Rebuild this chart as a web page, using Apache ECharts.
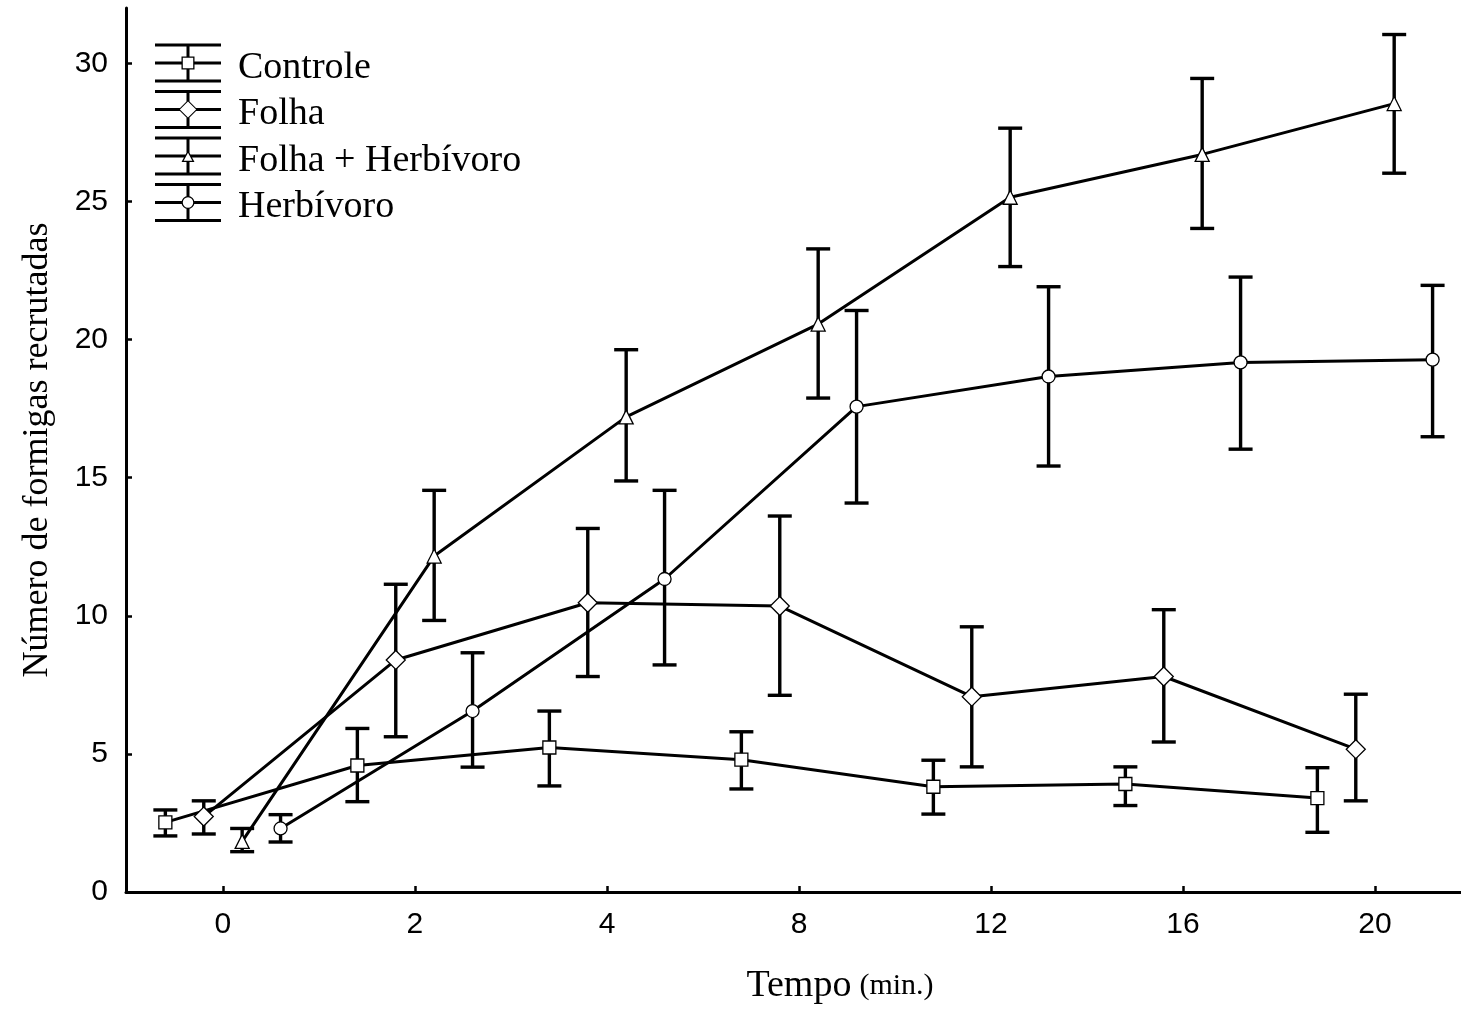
<!DOCTYPE html>
<html>
<head>
<meta charset="utf-8">
<script src="https://cdn.jsdelivr.net/npm/echarts@6/dist/echarts.min.js"></script>
<style>html,body{margin:0;padding:0;background:#fff}#c{width:1461px;height:1012px}</style>
</head>
<body>
<div id="c"></div>
<script>
// ---- data ----
const timeLabels = ['0', '2', '4', '8', '12', '16', '20'];
const seriesNames = ['Controle', 'Folha', 'Folha + Herbívoro', 'Herbívoro'];
const yTicks = [0, 5, 10, 15, 20, 25, 30];

const controleMean = [2.52, 4.58, 5.23, 4.79, 3.81, 3.91, 3.40];
const controleLow  = [2.03, 3.27, 3.84, 3.73, 2.82, 3.13, 2.16];
const controleHigh = [2.97, 5.92, 6.55, 5.80, 4.77, 4.53, 4.50];

const folhaMean = [2.73, 8.40, 10.47, 10.35, 7.07, 7.80, 5.17];
const folhaLow  = [2.10, 5.62, 7.80, 7.12, 4.53, 5.43, 3.30];
const folhaHigh = [3.30, 11.14, 13.16, 13.61, 9.60, 10.22, 7.16];

const folhaHerbMean = [1.83, 12.16, 17.20, 20.56, 25.15, 26.70, 28.54];
const folhaHerbLow  = [1.46, 9.83, 14.88, 17.88, 22.64, 24.02, 26.02];
const folhaHerbHigh = [2.30, 14.54, 19.63, 23.28, 27.65, 29.45, 31.04];

const herbMean = [2.30, 6.55, 11.33, 17.57, 18.66, 19.17, 19.27];
const herbLow  = [1.81, 4.52, 8.22, 14.08, 15.42, 16.03, 16.48];
const herbHigh = [2.80, 8.66, 14.54, 21.05, 21.91, 22.26, 21.96];

// ---- layout / style ----
const dodge = [-0.3, -0.1, 0.1, 0.3];
const symbols = ['rect', 'diamond', 'triangle', 'circle'];
const symbolSizes = [13, 19, 14, 13];

// legend icons: error-bar glyph with hollow marker (nonzero winding holes)
const capPaths = 'M0 0H66V3H0Z M0 36H66V39H0Z ';
const legendIcons = [
  'path://' + capPaths +
    'M26.5 13H39.5V26H26.5Z M27.8 14.3V24.7H38.2V14.3Z ' +
    'M0 18H26.5V21H0Z M39.5 18H66V21H39.5Z M31.5 3H34.5V13H31.5Z M31.5 26H34.5V36H31.5Z',
  'path://' + capPaths +
    'M33 10L42.5 19.5L33 29L23.5 19.5Z M33 11.4L24.9 19.5L33 27.6L41.1 19.5Z ' +
    'M0 18H25L23.5 19.5L25 21H0Z M41 18H66V21H41L42.5 19.5Z ' +
    'M31.5 3H34.5V11.5L33 10L31.5 11.5Z M31.5 27.5L33 29L34.5 27.5V36H31.5Z',
  'path://' + capPaths +
    'M33 13.5L39.5 25.5H26.5Z M33 16.2L28.67 24.2H37.33Z ' +
    'M0 18H30.56L28.94 21H0Z M35.44 18H66V21H37.06Z ' +
    'M31.5 3H34.5V16.27L33 13.5L31.5 16.27Z M31.5 25.5H34.5V36H31.5Z',
  'path://' + capPaths +
    'M39.5 19.5A6.5 6.5 0 1 1 26.5 19.5A6.5 6.5 0 1 1 39.5 19.5Z ' +
    'M38.2 19.5A5.2 5.2 0 1 0 27.8 19.5A5.2 5.2 0 1 0 38.2 19.5Z ' +
    'M0 18H26.7V21H0Z M39.3 18H66V21H39.3Z M31.5 3H34.5V13.2H31.5Z M31.5 25.8H34.5V36H31.5Z'
];

const means = [controleMean, folhaMean, folhaHerbMean, herbMean];
const lows = [controleLow, folhaLow, folhaHerbLow, herbLow];
const highs = [controleHigh, folhaHigh, folhaHerbHigh, herbHigh];

const series = [];
seriesNames.forEach((name, k) => {
  series.push({
    name: name + ' (erro)',
    type: 'custom',
    z: 2,
    silent: true,
    encode: { x: 0, y: [1, 2] },
    data: means[k].map((v, i) => [i + dodge[k], lows[k][i], highs[k][i]]),
    renderItem: function (params, api) {
      const x = api.value(0);
      const pLo = api.coord([x, api.value(1)]);
      const pHi = api.coord([x, api.value(2)]);
      const hw = 12;
      const st = { stroke: '#000', lineWidth: 3.4 };
      return {
        type: 'group',
        children: [
          { type: 'line', shape: { x1: pLo[0], y1: pLo[1], x2: pHi[0], y2: pHi[1] }, style: st },
          { type: 'line', shape: { x1: pLo[0] - hw, y1: pLo[1], x2: pLo[0] + hw, y2: pLo[1] }, style: st },
          { type: 'line', shape: { x1: pHi[0] - hw, y1: pHi[1], x2: pHi[0] + hw, y2: pHi[1] }, style: st }
        ]
      };
    }
  });
});
seriesNames.forEach((name, k) => {
  series.push({
    name: name,
    type: 'line',
    z: 3,
    data: means[k].map((v, i) => [i + dodge[k], v]),
    symbol: symbols[k],
    symbolSize: symbolSizes[k],
    showAllSymbol: true,
    lineStyle: { color: '#000', width: 3 },
    itemStyle: { color: '#fff', borderColor: '#000', borderWidth: 1.3 },
    emphasis: { disabled: true }
  });
});

const chart = echarts.init(document.getElementById('c'), null, { renderer: 'canvas' });
chart.setOption({
  animation: false,
  backgroundColor: '#fff',
  grid: { left: 126, right: 0, top: 8, bottom: 120, containLabel: false },
  legend: {
    orient: 'vertical',
    left: 155,
    top: 43.5,
    padding: 0,
    itemWidth: 66,
    itemHeight: 39,
    itemGap: 3,
    selectedMode: false,
    data: seriesNames.map((n, k) => ({ name: n, icon: legendIcons[k] })),
    itemStyle: { color: '#000', borderWidth: 0, borderColor: '#000' },
    formatter: '{a|{name}}',
    textStyle: {
      color: '#000',
      rich: {
        a: { fontFamily: 'Liberation Serif', fontSize: 38, color: '#000', padding: [10, 0, 0, 12] }
      }
    }
  },
  xAxis: {
    type: 'value',
    min: -0.505,
    max: 6.448,
    name: '{t|Tempo}{m|(min.)}',
    nameLocation: 'middle',
    nameGap: 75,
    nameTextStyle: {
      padding: [0, 0, 0, 93],
      rich: {
        t: { fontFamily: 'Liberation Serif', fontSize: 38, color: '#000' },
        m: { fontFamily: 'Liberation Serif', fontSize: 30, color: '#000', padding: [0, 0, 0, 8] }
      }
    },
    splitLine: { show: false },
    axisLine: { show: true, onZero: false, lineStyle: { color: '#000', width: 3 } },
    axisTick: { show: true, inside: true, length: 6, lineStyle: { color: '#000', width: 2.5 }, customValues: [0, 1, 2, 3, 4, 5, 6] },
    axisLabel: {
      customValues: [0, 1, 2, 3, 4, 5, 6],
      formatter: function (v) { return timeLabels[Math.round(v)]; },
      fontFamily: 'Liberation Sans', fontSize: 30, color: '#000', margin: 18
    }
  },
  yAxis: {
    type: 'value',
    min: 0,
    max: 32,
    name: 'Número de formigas recrutadas',
    nameLocation: 'middle',
    nameGap: 70,
    nameTextStyle: { fontFamily: 'Liberation Serif', fontSize: 36, color: '#000' },
    splitLine: { show: false },
    axisLine: { show: true, onZero: false, lineStyle: { color: '#000', width: 3 } },
    axisTick: { show: true, inside: true, length: 6, lineStyle: { color: '#000', width: 2.5 }, customValues: yTicks },
    axisLabel: { customValues: yTicks, fontFamily: 'Liberation Sans', fontSize: 30, color: '#000', margin: 18 }
  },
  series: series
});
</script>
</body>
</html>
